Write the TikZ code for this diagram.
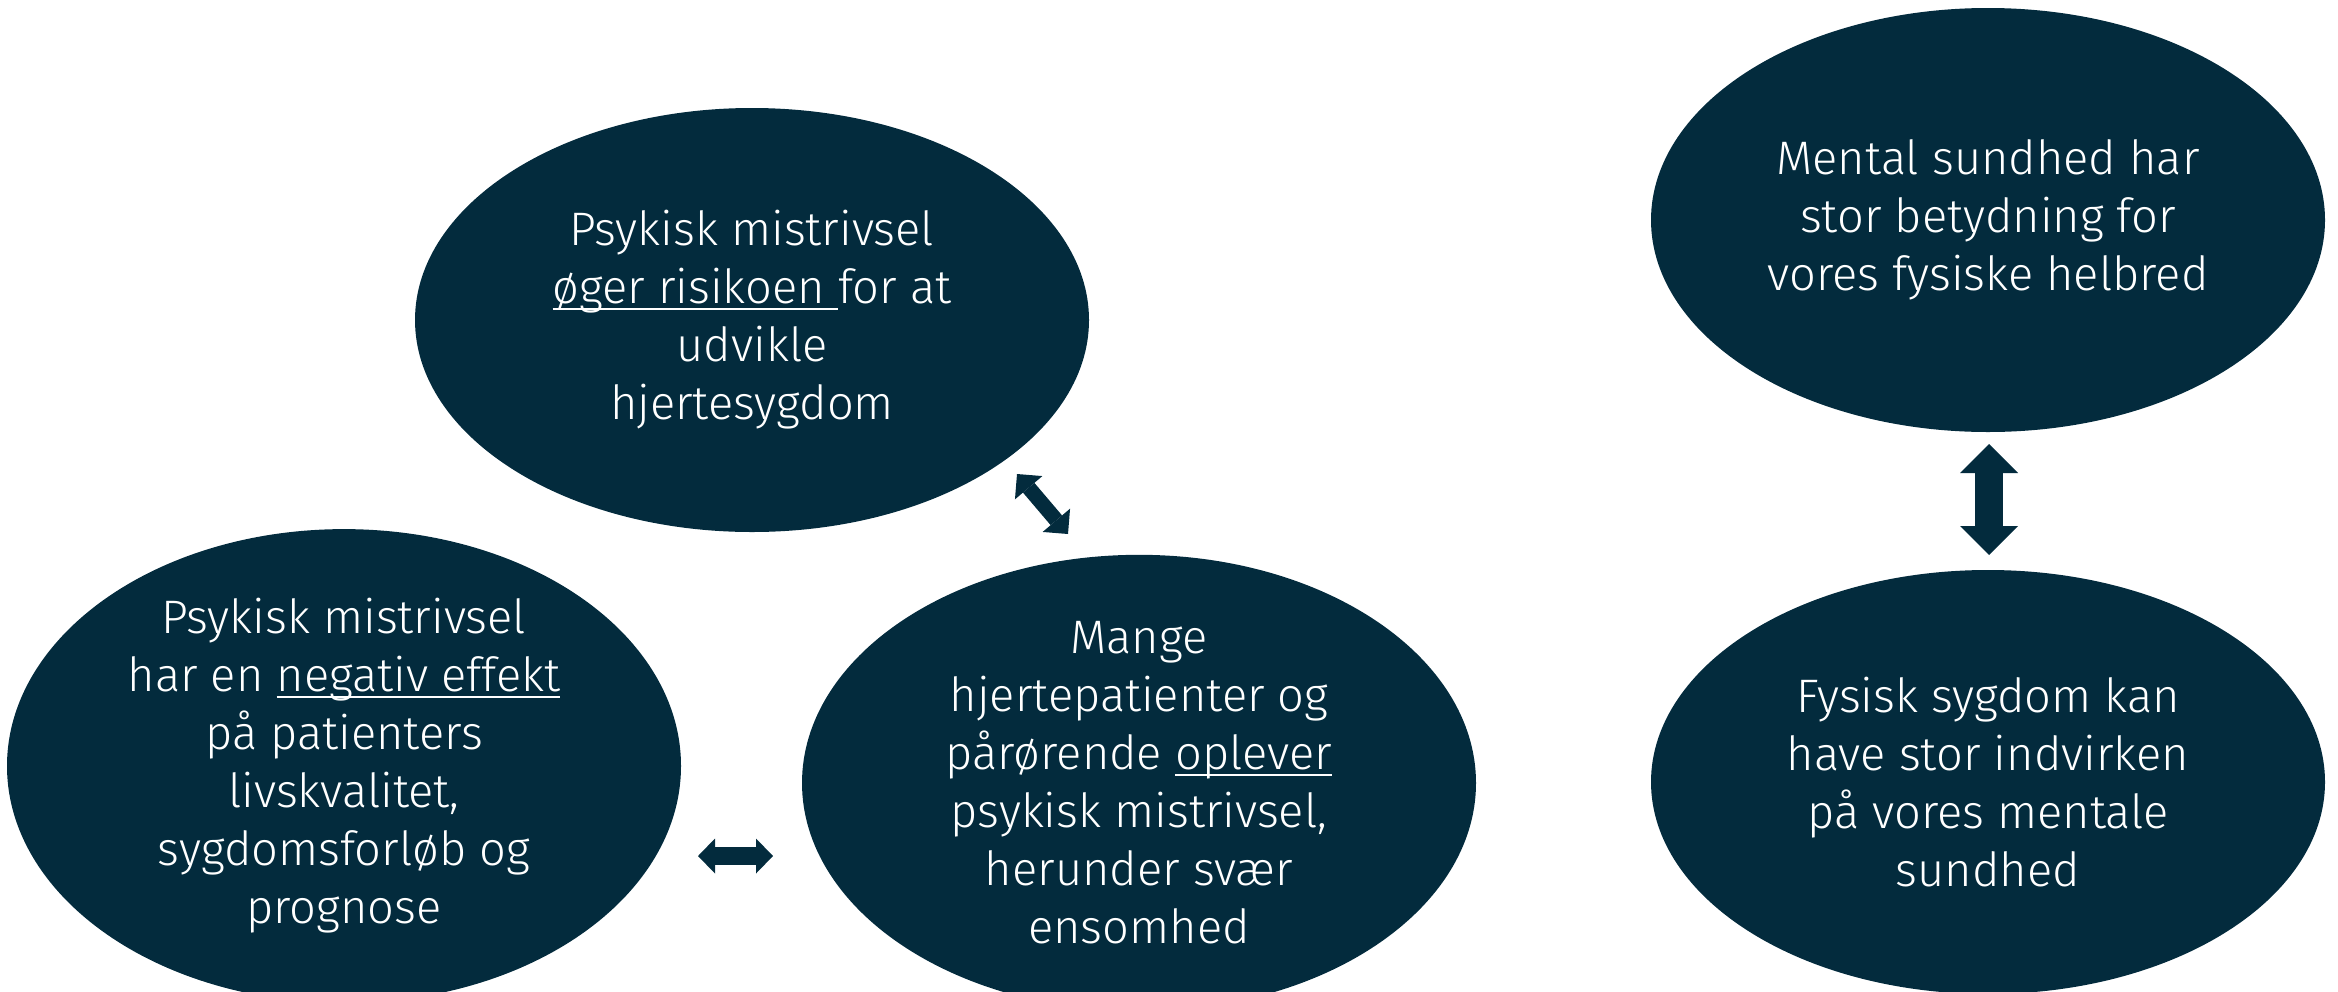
\documentclass[tikz,border=0pt]{standalone}
\usepackage{fontspec}
\setmainfont{Fira Sans}[UprightFont=* Light]
\usetikzlibrary{shapes.geometric,arrows.meta}
\definecolor{navy}{RGB}{3,43,61}
\newcommand\myul[1]{\setbox0\hbox{#1}\rlap{\rule[-0.14em]{\wd0}{0.05em}}\box0}
\begin{document}
\begin{tikzpicture}[x=0.5pt,y=-0.5pt,
  bubble/.style={ellipse, fill=navy, text=white, minimum width=337pt, minimum height=212pt,
    inner sep=0pt, align=center, font=\fontsize{23.5}{29}\selectfont},
  blockarrow/.style={draw=navy, line width=#1}]
\useasboundingbox (0,0) rectangle (2338,991);
\node[bubble] (risk) at (752,320) {Psykisk mistrivsel\\\myul{øger risikoen\ }for at\\udvikle\\hjertesygdom};
\node[bubble] (neg) at (344,766) {Psykisk mistrivsel\\har en \myul{negativ effekt}\\på patienters\\livskvalitet,\\sygdomsforløb og\\prognose};
\node[bubble] (many) at (1139,783) {Mange\\hjertepatienter og\\pårørende \myul{oplever}\\psykisk mistrivsel,\\herunder svær\\ensomhed};
\node[bubble] (mental) at (1988,220) {Mental sundhed har\\stor betydning for\\vores fysiske helbred};
\node[bubble] (fysisk) at (1988,782) {Fysisk sygdom kan\\have stor indvirken\\på vores mentale\\sundhed};
\coordinate (d1) at (1017,474);
\coordinate (d2) at (1068,534);
\coordinate (h1) at (698,856);
\coordinate (h2) at (773,856);
\coordinate (v1) at (1989,444);
\coordinate (v2) at (1989,555);
\draw[blockarrow=7.5pt, {Triangle[width=18pt,length=9pt,line width=0pt]}-{Triangle[width=18pt,length=9pt,line width=0pt]}] (d1) -- (d2);
\draw[blockarrow=9pt, {Triangle[width=17.5pt,length=8.5pt,line width=0pt]}-{Triangle[width=17.5pt,length=8.5pt,line width=0pt]}] (h1) -- (h2);
\draw[blockarrow=14pt, {Triangle[width=29pt,length=14.5pt,line width=0pt]}-{Triangle[width=29pt,length=14.5pt,line width=0pt]}] (v1) -- (v2);
\end{tikzpicture}
\end{document}
